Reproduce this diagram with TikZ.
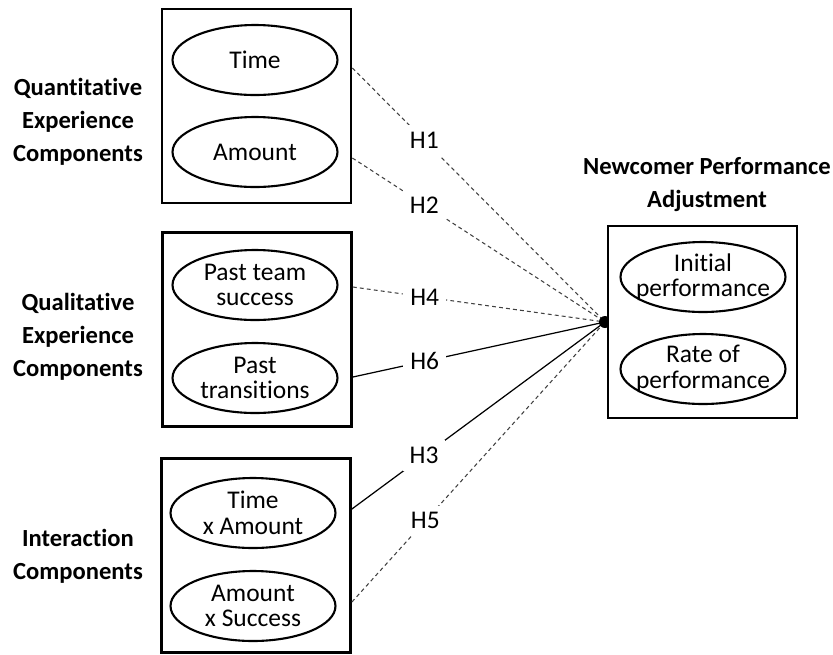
\documentclass[tikz,border=0pt]{standalone}
\usepackage{fontspec}
\setmainfont{Carlito}[RawFeature={-liga}]
\usetikzlibrary{shapes.geometric}
\begin{document}
\begin{tikzpicture}[x=0.02cm,y=-0.02cm,
    groupbox/.style={draw,line width=1.6pt,rectangle,inner sep=0pt,
      minimum width=3.78cm,minimum height=3.88cm,fill=white},
    comp/.style={draw,line width=1.2pt,ellipse,inner xsep=-12pt,inner ysep=-6pt,align=center,
      minimum width=3.3cm,minimum height=1.4cm,font=\fontsize{14.5}{14.5}\selectfont},
    title/.style={align=center,font=\bfseries\fontsize{14}{18.8}\selectfont},
    weak/.style={draw=black!75,line width=0.6pt,dash pattern=on 2.2pt off 1.8pt},
    strong/.style={draw,line width=0.7pt}]
  \useasboundingbox (0,0) rectangle (833,654);

  % boxes and convergence point
  \node[groupbox] (quant) at (256.5,106) {};
  \node[groupbox] (qual)  at (257,329.5) {};
  \node[groupbox] (inter) at (256,555.5) {};
  \coordinate (hub) at (605,322);

  % group titles
  \begin{scope}[every node/.style={title}]
    \node (tquant) at (78,122) {Quantitative\\Experience\\Components};
    \node (tqual)  at (78,337) {Qualitative\\Experience\\Components};
    \node (tinter) at (78,556) {Interaction\\Components};
    \node (tperf)  at (707,185) {Newcomer Performance\\Adjustment};
  \end{scope}

  % hypotheses
  \begin{scope}[every node/.style={fill=white,inner sep=4pt,font=\fontsize{14.5}{16}\selectfont}]
    \path[weak]   (quant.east |- 0,68)  edge node[pos=.285] {H1} (hub);
    \path[weak]   (quant.east |- 0,158) edge node[pos=.285] {H2} (hub);
    \path[weak]   (qual.east |- 0,287)  edge node[pos=.285] {H4} (hub);
    \path[strong] (qual.east |- 0,377)  edge node[pos=.285] {H6} (hub);
    \path[strong] (inter.east |- 0,509) edge node[pos=.285] {H3} (hub);
    \path[weak]   (inter.east |- 0,602) edge node[pos=.29] {H5} (hub);
  \end{scope}
  \fill (hub) circle (0.12cm);
  \node[groupbox,minimum width=3.78cm,minimum height=3.84cm] (perf) at (702.5,322) {};

  % components
  \node[comp] (time)    at (255,60)  {Time};
  \node[comp] (amount)  at (255,152) {Amount};
  \node[comp] (success) at (255,285) {Past team\\success};
  \node[comp] (trans)   at (255,378) {Past\\transitions};
  \node[comp] (txa)     at (253,513) {Time\\x Amount};
  \node[comp] (axs)     at (253,606) {Amount\\x Success};
  \node[comp] (init)    at (703,277) {Initial\\performance};
  \node[comp] (rate)    at (703,369) {Rate of\\performance};

\end{tikzpicture}
\end{document}
